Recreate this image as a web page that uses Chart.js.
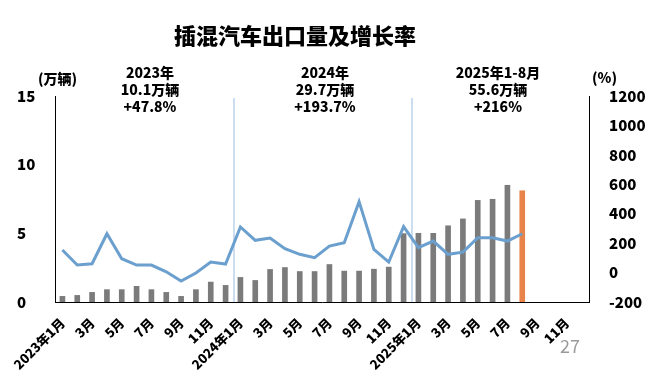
<!DOCTYPE html>
<html>
<head>
<meta charset="utf-8">
<script src="https://cdn.jsdelivr.net/npm/chart.js@4"></script>
<style>
  html, body { margin: 0; padding: 0; background: #fff; }
  #wrap { width: 651px; height: 380px; position: relative; }
</style>
</head>
<body>
<div id="wrap"><canvas id="c"></canvas></div>
<script>
// months 2023-01 .. 2025-12
const months = [
  '2023年1月','2月','3月','4月','5月','6月','7月','8月','9月','10月','11月','12月',
  '2024年1月','2月','3月','4月','5月','6月','7月','8月','9月','10月','11月','12月',
  '2025年1月','2月','3月','4月','5月','6月','7月','8月','9月','10月','11月','12月'
];
// export volume (万辆)
const volume = [
  0.41, 0.48, 0.70, 0.90, 0.90, 1.14, 0.90, 0.70, 0.41, 0.90, 1.45, 1.21,
  1.79, 1.57, 2.37, 2.51, 2.22, 2.22, 2.73, 2.25, 2.25, 2.39, 2.54, 4.98,
  5.00, 5.00, 5.55, 6.05, 7.40, 7.48, 8.50, 8.10
];
// year-on-year growth (%)
const growth = [
  153, 51, 60, 264, 94, 51, 51, 5, -58, -3, 71, 58,
  310, 219, 235, 162, 124, 101, 180, 203, 482, 158, 71, 312,
  169, 214, 124, 139, 237, 237, 214, 264
];
const yearNotes = [
  { lines: ['2023年', '10.1万辆', '+47.8%'], x: 150 },
  { lines: ['2024年', '29.7万辆', '+193.7%'], x: 325 },
  { lines: ['2025年1-8月', '55.6万辆', '+216%'], x: 498 }
];
const yearBreaks = [12, 24];

const FONT = '"Noto Sans CJK SC", "Noto Sans", sans-serif';
const barColors = volume.map((v, i) => i === volume.length - 1 ? '#E8834A' : '#7B7B7B');

const textPlugin = {
  id: 'texts',
  beforeDatasetsDraw(chart) {
    const { ctx, chartArea, scales } = chart;
    ctx.save();
    ctx.strokeStyle = '#A9C8E4';
    ctx.lineWidth = 1.2;
    yearBreaks.forEach(b => {
      const x = (scales.x.getPixelForValue(b - 1) + scales.x.getPixelForValue(b)) / 2 + 1;
      ctx.beginPath();
      ctx.moveTo(x, chartArea.top + 2);
      ctx.lineTo(x, chartArea.bottom);
      ctx.stroke();
    });
    ctx.restore();
  },
  afterDraw(chart) {
    const { ctx } = chart;
    ctx.save();
    ctx.fillStyle = '#000';
    ctx.textAlign = 'center';
    ctx.textBaseline = 'middle';
    ctx.font = '900 22px ' + FONT;
    ctx.fillText('插混汽车出口量及增长率', 295, 36);
    ctx.font = '900 14px ' + FONT;
    yearNotes.forEach(n => {
      n.lines.forEach((t, k) => ctx.fillText(t, n.x, 73 + k * 17));
    });
    ctx.textAlign = 'left';
    ctx.fillText('(万辆)', 38, 79);
    ctx.fillText('(%)', 592, 78);
    ctx.fillStyle = '#9a9a9a';
    ctx.font = '18px ' + FONT;
    ctx.fillText('27', 560, 346);
    ctx.restore();
  }
};

new Chart(document.getElementById('c'), {
  type: 'bar',
  data: {
    labels: months,
    datasets: [
      {
        type: 'line',
        data: growth,
        yAxisID: 'y1',
        borderColor: '#6B9FCE',
        borderWidth: 3,
        pointRadius: 0,
        tension: 0,
        order: 0
      },
      {
        type: 'bar',
        data: volume,
        yAxisID: 'y',
        backgroundColor: barColors,
        barThickness: 5,
        order: 1
      }
    ]
  },
  options: {
    responsive: true,
    maintainAspectRatio: false,
    animation: false,
    layout: { padding: { top: 96, left: 17, right: 0, bottom: 0 } },
    plugins: { legend: { display: false }, tooltip: { enabled: false } },
    scales: {
      x: {
        grid: { display: false },
        border: { display: true, color: '#000', width: 1 },
        afterFit: s => { s.height = 78; },
        ticks: {
          autoSkip: false,
          maxRotation: 45,
          minRotation: 45,
          padding: 5,
          color: '#000',
          font: { family: FONT, size: 13, weight: '900' },
          callback: (v, i) => i % 2 === 0 ? months[i] : ''
        }
      },
      y: {
        position: 'left',
        min: 0, max: 15,
        grid: { display: false },
        border: { display: true, color: '#000', width: 1 },
        afterFit: s => { s.width = 38; },
        ticks: {
          stepSize: 5,
          crossAlign: 'far',
          color: '#000',
          font: { family: FONT, size: 15, weight: '900' }
        }
      },
      y1: {
        position: 'right',
        min: -200, max: 1200,
        grid: { display: false },
        border: { display: true, color: '#000', width: 1 },
        afterFit: s => { s.width = 62; },
        ticks: {
          stepSize: 200,
          padding: 12,
          color: '#000',
          font: { family: FONT, size: 15, weight: '900' },
          callback: v => String(v)
        }
      }
    }
  },
  plugins: [textPlugin]
});
</script>
</body>
</html>
